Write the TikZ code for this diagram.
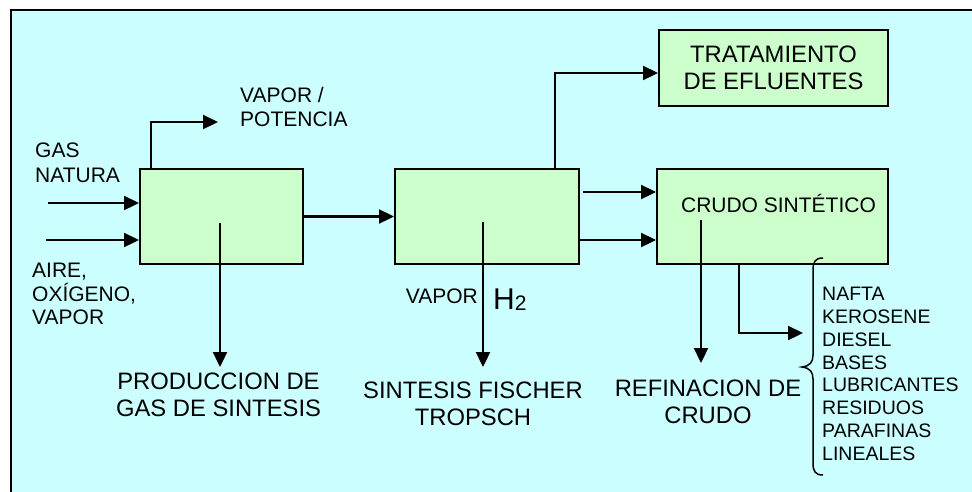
\documentclass[tikz,border=0pt]{standalone}
\usepackage{fontspec}
\setmainfont{Liberation Sans}
\usetikzlibrary{arrows.meta}
\definecolor{bgcyan}{HTML}{CCFFFF}
\definecolor{boxgreen}{HTML}{CCFFCC}
\begin{document}
\begin{tikzpicture}[x=1pt,y=-1pt,
  stagebox/.style={draw=black,line width=2pt,fill=boxgreen,inner sep=0pt},
  flow/.style={line width=2.3pt,-{Triangle[length=15pt,width=14pt]}},
  biglbl/.style={inner sep=0pt,align=center,font=\fontsize{23.8}{27}\selectfont},
  lbl/.style={inner sep=0pt,align=left,font=\fontsize{21}{24}\selectfont},
  listlbl/.style={inner sep=0pt,align=left,font=\fontsize{19.5}{22.9}\selectfont}]
\clip (0,0) rectangle (972,491);
\fill[white] (0,0) rectangle (972,491);
\draw[line width=2.5pt,fill=bgcyan] (11,10) rectangle (1000,520);

% boxes
\node[stagebox,minimum width=163pt,minimum height=95pt] (b1) at (221.5,216.5) {};
\node[stagebox,minimum width=184pt,minimum height=95pt] (b2) at (487,216.5) {};
\node[stagebox,minimum width=229pt,minimum height=76pt,align=center,
      font=\fontsize{23.8}{27.5}\selectfont] (b3) at (773.5,68) {TRATAMIENTO\\DE EFLUENTES};
\node[stagebox,minimum width=231pt,minimum height=95pt] (b4) at (772.5,216.5) {};

% coordinates
\coordinate (gin) at (48,203);
\coordinate (ain) at (46,240);
\coordinate (vp) at (218,122);
\coordinate (d1s) at (220,223);
\coordinate (d1e) at (220,367);
\coordinate (d2s) at (483,222);
\coordinate (d2e) at (483,367);
\coordinate (d4s) at (701,220);
\coordinate (d4e) at (701,363);
\coordinate (p4) at (803,333);
\coordinate (c2) at (583,192);
\coordinate (c3) at (579,240);

% connectors
\draw[flow] (gin) -- (gin -| b1.west);
\draw[flow] (ain) -- (ain -| b1.west);
\draw[flow] ([xshift=12pt]b1.north west) |- (vp);
\draw[flow] (b1.east) -- (b2.west);
\draw[flow] ([xshift=-25pt]b2.north east) |- ([yshift=-5pt]b3.west);
\draw[flow] (c2) -- (c2 -| b4.west);
\draw[flow] (c3) -- (c3 -| b4.west);
\draw[flow] (d1s) -- (d1e);
\draw[flow] (d2s) -- (d2e);
\draw[flow] (d4s) -- (d4e);
\draw[flow] ([xshift=83pt]b4.south west) |- (p4);

% brace
\draw[line width=1.5pt] (823,258) .. controls (815,258) and (813,262) .. (813,270)
  -- (813,355) .. controls (813,362) and (810,366) .. (802,367)
  .. controls (810,368) and (813,372) .. (813,379)
  -- (813,463) .. controls (813,471) and (815,475) .. (823,475);

% labels
\node[lbl,anchor=north west] (tvp) at (240,87) {VAPOR /\\POTENCIA};
\node[inner sep=0pt,align=left,font=\fontsize{21}{25}\selectfont,anchor=north west] (tgas) at (35,143) {GAS\\NATURA};
\node[inner sep=0pt,align=left,font=\fontsize{21}{23.5}\selectfont,anchor=north west] (tair) at (32,263) {AIRE,\\OXÍGENO,\\VAPOR};
\node[biglbl,anchor=north] (t1) at (218.5,373) {PRODUCCION DE\\GAS DE SINTESIS};
\node[biglbl,anchor=north] (t2) at (473,382) {SINTESIS FISCHER\\TROPSCH};
\node[biglbl,anchor=north] (t3) at (708,380) {REFINACION DE\\CRUDO};
\node[lbl,anchor=base] (t4) at (778.5,212) {CRUDO SINTÉTICO};
\node[lbl,anchor=base east] (tv) at (478,303) {VAPOR};
\node[inner sep=0pt,anchor=base west] (th) at (493,309) {\fontsize{30}{30}\selectfont H\fontsize{21}{21}\selectfont\raisebox{-1pt}{2}};
\node[listlbl,anchor=north west] (tl) at (822,286.7) {NAFTA\\KEROSENE\\DIESEL\\BASES\\LUBRICANTES\\RESIDUOS\\PARAFINAS\\LINEALES};
\end{tikzpicture}
\end{document}
